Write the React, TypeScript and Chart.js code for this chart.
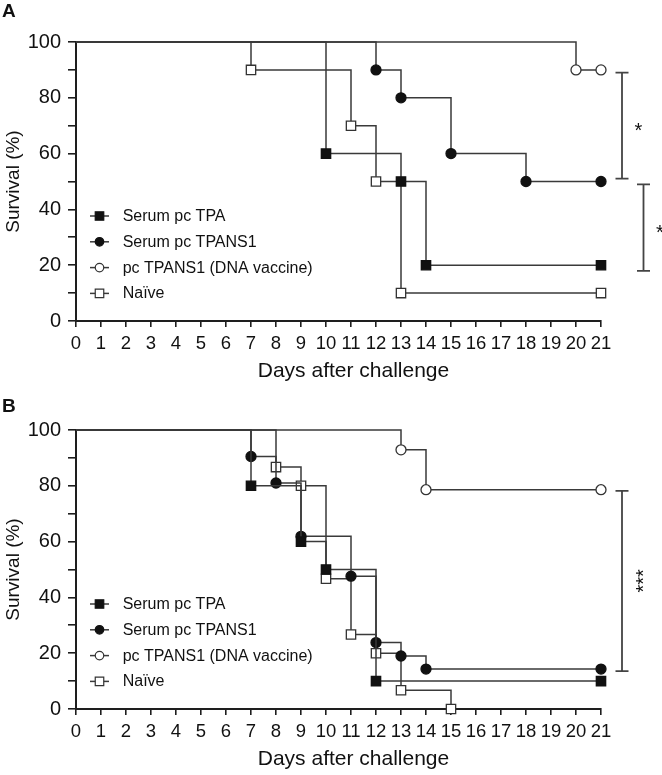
import React, { useEffect, useRef } from 'react';
import { Chart, registerables } from 'chart.js';

Chart.register(...registerables);

// ---------- data ----------
const seriesLabels = ['Serum pc TPA', 'Serum pc TPANS1', 'pc TPANS1 (DNA vaccine)', 'Naïve'];

// Panel A
const tpaDaysA = [0, 10, 13, 14, 21];
const tpaSurvA = [100, 60, 50, 20, 20];
const tpans1DaysA = [0, 12, 13, 15, 18, 21];
const tpans1SurvA = [100, 90, 80, 60, 50, 50];
const dnaDaysA = [0, 20, 21];
const dnaSurvA = [100, 90, 90];
const naiveDaysA = [0, 7, 11, 12, 13, 21];
const naiveSurvA = [100, 90, 70, 50, 10, 10];

// Panel B
const tpaDaysB = [0, 7, 9, 10, 12, 21];
const tpaSurvB = [100, 80, 60, 50, 10, 10];
const tpans1DaysB = [0, 7, 8, 9, 11, 12, 13, 14, 21];
const tpans1SurvB = [100, 90.5, 81, 61.9, 47.6, 23.8, 19, 14.3, 14.3];
const dnaDaysB = [0, 13, 14, 21];
const dnaSurvB = [100, 92.9, 78.6, 78.6];
const naiveDaysB = [0, 8, 9, 10, 11, 12, 13, 15];
const naiveSurvB = [100, 86.7, 80, 46.7, 26.7, 20, 6.7, 0];

// axis
const xMin = 0;
const xMax = 21;
const yMajorTicks = [0, 20, 40, 60, 80, 100];
const xTitle = 'Days after challenge';
const yTitle = 'Survival (%)';

// significance brackets (survival-level spans)
const bracketFromA = [89, 49];
const bracketToA = [51, 18];
const bracketTextA = ['*', '*'];
const bracketFromB = [78.2];
const bracketToB = [13.6];
const bracketTextB = ['***'];

// ---------- styles ----------
const FONT = "Arial, 'Liberation Sans', Helvetica, sans-serif";
const LINE = '#3a3a3a';
const AXIS = '#1e1e1e';
const TEXT = '#111';

const markerStyles = [
  { shape: 'rect', r: 6.6, fill: '#111', stroke: '#111' },
  { shape: 'circle', r: 5, fill: '#111', stroke: '#111' },
  { shape: 'circle', r: 5, fill: '#fff', stroke: '#333' },
  { shape: 'rect', r: 6.6, fill: '#fff', stroke: '#333' },
];

function makeDataset(idx: number, days: number[], surv: number[]) {
  const st = markerStyles[idx];
  return {
    label: seriesLabels[idx],
    data: days.map((d, i) => ({ x: d, y: surv[i] })),
    stepped: 'before' as const,
    borderColor: LINE,
    borderWidth: 1.5,
    pointStyle: st.shape,
    pointRadius: days.map((_, i) => (i === 0 ? 0 : st.r)),
    pointBackgroundColor: st.fill,
    pointBorderColor: st.stroke,
    pointBorderWidth: 1.3,
    fill: false,
    clip: false as const,
  };
}

function drawMarker(ctx: CanvasRenderingContext2D, shape: string, x: number, y: number, size: number, fill: string, stroke: string) {
  ctx.beginPath();
  if (shape === 'rect') {
    ctx.rect(x - size / 2, y - size / 2, size, size);
  } else {
    ctx.arc(x, y, size / 2, 0, Math.PI * 2);
  }
  ctx.fillStyle = fill;
  ctx.fill();
  ctx.lineWidth = 1.2;
  ctx.strokeStyle = stroke;
  ctx.stroke();
}

function buildChart(
  canvas: HTMLCanvasElement,
  panel: string,
  datasets: any[],
  bFrom: number[],
  bTo: number[],
  bText: string[],
  canvasH: number,
  titlePadTop: number
) {
  const plotBottom = 321;
  const xAxisH = canvasH - plotBottom;

  const overlayPlugin = {
    id: 'overlay' + panel,
    afterDraw(chart: any) {
      const ctx: CanvasRenderingContext2D = chart.ctx;
      const { left, right, bottom } = chart.chartArea;
      const ys = chart.scales.y;

      // legend inside plot area
      ctx.save();
      chart.data.datasets.forEach((ds: any, i: number) => {
        const st = markerStyles[i];
        const cy = bottom - 105 + i * 25.8;
        const cx = left + 23.5;
        ctx.beginPath();
        ctx.moveTo(cx - 9.5, cy);
        ctx.lineTo(cx + 9.5, cy);
        ctx.strokeStyle = LINE;
        ctx.lineWidth = 1.5;
        ctx.stroke();
        drawMarker(ctx, st.shape, cx, cy, 8.5, st.fill, st.stroke);
        ctx.fillStyle = TEXT;
        ctx.font = `16px ${FONT}`;
        ctx.textAlign = 'left';
        ctx.textBaseline = 'middle';
        ctx.fillText(ds.label, left + 46.7, cy + 0.5);
      });
      ctx.restore();

      // x-axis title
      ctx.save();
      ctx.fillStyle = TEXT;
      ctx.font = `21px ${FONT}`;
      ctx.textAlign = 'center';
      ctx.textBaseline = 'middle';
      ctx.fillText(xTitle, (left + right) / 2 + 15, bottom + 50);
      ctx.restore();

      // significance brackets
      ctx.save();
      bFrom.forEach((from, i) => {
        const x = right + 21 + i * 21.5;
        const y1 = ys.getPixelForValue(from);
        const y2 = ys.getPixelForValue(bTo[i]);
        ctx.strokeStyle = '#444';
        ctx.lineWidth = 1.8;
        ctx.beginPath();
        ctx.moveTo(x, y1);
        ctx.lineTo(x, y2);
        ctx.moveTo(x - 6.5, y1);
        ctx.lineTo(x + 6.5, y1);
        ctx.moveTo(x - 6.5, y2);
        ctx.lineTo(x + 6.5, y2);
        ctx.stroke();
        const txt = bText[i];
        const cx = x + 16.5;
        const cy = (y1 + y2) / 2;
        ctx.fillStyle = TEXT;
        ctx.font = `20px ${FONT}`;
        ctx.textAlign = 'center';
        ctx.textBaseline = 'alphabetic';
        ctx.save();
        ctx.translate(cx, cy);
        if (txt.length > 1) ctx.rotate(-Math.PI / 2);
        ctx.fillText(txt, 0, 11.6);
        ctx.restore();
      });
      ctx.restore();
    },
  };

  return new Chart(canvas, {
    type: 'line',
    data: { datasets },
    options: {
      animation: false,
      responsive: false,
      devicePixelRatio: 1,
      events: [],
      layout: { padding: { left: 2, right: 61, top: 0, bottom: 0 } },
      plugins: {
        legend: { display: false },
        tooltip: { enabled: false },
        title: {
          display: true,
          text: panel,
          align: 'start',
          color: TEXT,
          font: { family: FONT, size: 19, weight: 'bold' },
          padding: { top: titlePadTop, bottom: 42 - 22.8 - titlePadTop },
        },
      },
      scales: {
        x: {
          type: 'linear',
          min: xMin,
          max: xMax,
          ticks: {
            stepSize: 1,
            autoSkip: false,
            maxRotation: 0,
            color: TEXT,
            padding: 6,
            font: { family: FONT, size: 18.5 },
          },
          grid: { drawOnChartArea: false, drawTicks: true, tickLength: 6, color: AXIS, lineWidth: 1.6 },
          border: { display: true, color: AXIS, width: 2 },
          afterFit: (s: any) => {
            s.height = xAxisH;
          },
        },
        y: {
          min: 0,
          max: 100,
          ticks: {
            stepSize: 10,
            autoSkip: false,
            color: TEXT,
            padding: 7,
            font: { family: FONT, size: 20 },
            callback: (v: any) => (yMajorTicks.includes(Number(v)) ? String(v) : ''),
          },
          grid: { drawOnChartArea: false, drawTicks: true, tickLength: 8, color: AXIS, lineWidth: 1.6 },
          border: { display: true, color: AXIS, width: 2 },
          title: {
            display: true,
            text: yTitle,
            color: TEXT,
            font: { family: FONT, size: 19 },
            padding: { top: 0, bottom: 0 },
          },
          afterFit: (s: any) => {
            s.width = 74;
          },
        },
      },
    } as any,
    plugins: [overlayPlugin],
  } as any);
}

export default function App() {
  const refA = useRef<HTMLCanvasElement>(null);
  const refB = useRef<HTMLCanvasElement>(null);

  useEffect(() => {
    const dsA = [
      makeDataset(0, tpaDaysA, tpaSurvA),
      makeDataset(1, tpans1DaysA, tpans1SurvA),
      makeDataset(2, dnaDaysA, dnaSurvA),
      makeDataset(3, naiveDaysA, naiveSurvA),
    ];
    const dsB = [
      makeDataset(0, tpaDaysB, tpaSurvB),
      makeDataset(1, tpans1DaysB, tpans1SurvB),
      makeDataset(2, dnaDaysB, dnaSurvB),
      makeDataset(3, naiveDaysB, naiveSurvB),
    ];
    const a = buildChart(refA.current!, 'A', dsA, bracketFromA, bracketToA, bracketTextA, 388, 0);
    const b = buildChart(refB.current!, 'B', dsB, bracketFromB, bracketToB, bracketTextB, 387, 7.6);
    return () => {
      a.destroy();
      b.destroy();
    };
  }, []);

  return (
    <div style={{ position: 'absolute', left: 0, top: 0, width: 662, height: 775, background: '#fff', overflow: 'hidden' }}>
      <canvas ref={refA} width={662} height={388} style={{ position: 'absolute', left: 0, top: 0, width: 662, height: 388, display: 'block' }} />
      <canvas ref={refB} width={662} height={387} style={{ position: 'absolute', left: 0, top: 388, width: 662, height: 387, display: 'block' }} />
    </div>
  );
}
